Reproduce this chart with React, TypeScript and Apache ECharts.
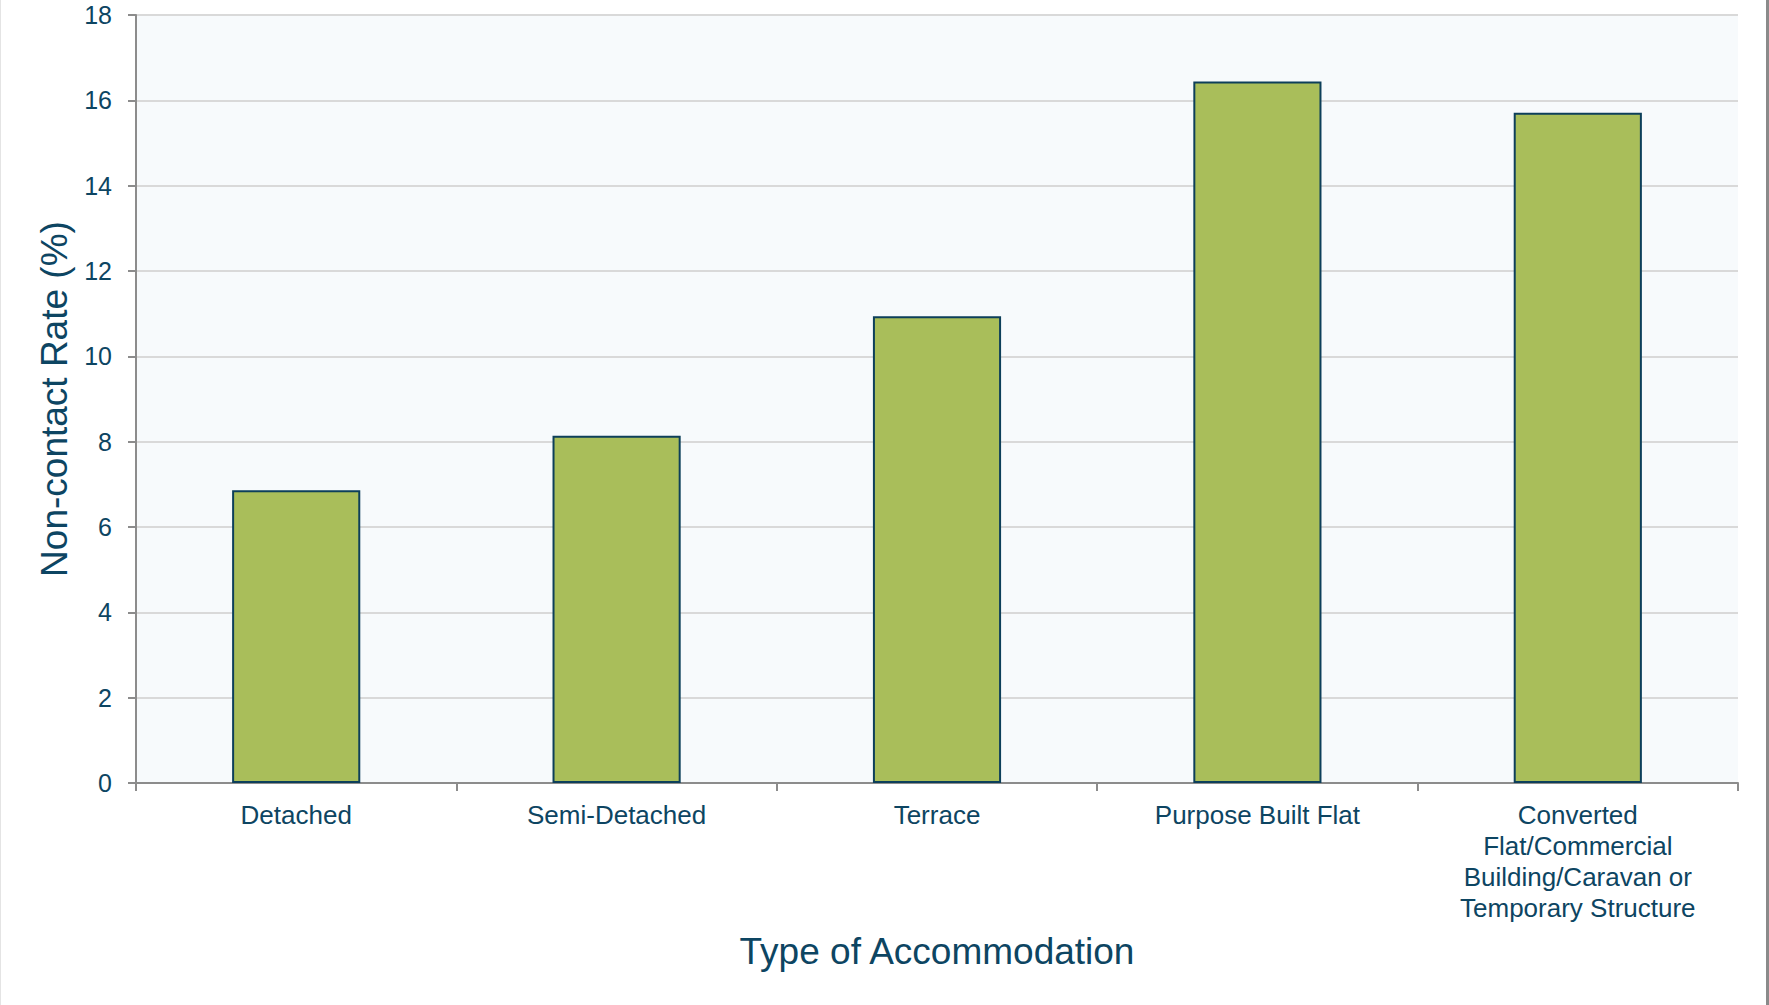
import React, { useEffect, useRef } from "react";
import * as echarts from "echarts";

const categories = [
  "Detached",
  "Semi-Detached",
  "Terrace",
  "Purpose Built Flat",
  "Converted\nFlat/Commercial\nBuilding/Caravan or\nTemporary Structure",
];
const nonContactRate = [6.86, 8.14, 10.94, 16.44, 15.71];
const yTicks = { min: 0, max: 18, interval: 2 };

const TEXT = "#0D4562";
const FONT = "'Liberation Sans', Arial, sans-serif";

export default function App() {
  const ref = useRef<HTMLDivElement>(null);
  useEffect(() => {
    if (!ref.current) return;
    const chart = echarts.init(ref.current, undefined, { renderer: "svg" });
    chart.setOption({
      animation: false,
      backgroundColor: "#ffffff",
      textStyle: { fontFamily: FONT },
      graphic: [
        { type: "rect", shape: { x: 0, y: 0, width: 1, height: 1005 }, style: { fill: "#e4e4e4" } },
        { type: "rect", shape: { x: 1766, y: 0, width: 3, height: 1005 }, style: { fill: "#8a8a8a" } },
      ],
      grid: {
        left: 136,
        right: 31,
        top: 15,
        bottom: 222,
        show: true,
        backgroundColor: "#F7FAFC",
        borderWidth: 0,
      },
      xAxis: {
        type: "category",
        data: categories,
        name: "Type of Accommodation",
        nameLocation: "middle",
        nameGap: 150,
        nameTextStyle: { color: TEXT, fontSize: 37, fontFamily: FONT },
        axisLine: { lineStyle: { color: "#8C8C8C", width: 2 } },
        axisTick: { show: true, length: 8, lineStyle: { color: "#8C8C8C", width: 2 } },
        axisLabel: {
          color: TEXT,
          fontSize: 26,
          lineHeight: 31,
          margin: 16,
          fontFamily: FONT,
          interval: 0,
        },
        splitLine: { show: false },
      },
      yAxis: {
        type: "value",
        min: yTicks.min,
        max: yTicks.max,
        interval: yTicks.interval,
        name: "Non-contact Rate (%)",
        nameLocation: "middle",
        nameGap: 61,
        nameTextStyle: { color: TEXT, fontSize: 37, fontFamily: FONT },
        axisLine: { show: true, lineStyle: { color: "#8C8C8C", width: 2 } },
        axisTick: { show: true, length: 8, lineStyle: { color: "#8C8C8C", width: 2 } },
        axisLabel: { color: TEXT, fontSize: 25, margin: 24, fontFamily: FONT },
        splitLine: { show: true, lineStyle: { color: "#D9D9D9", width: 2 } },
      },
      series: [
        {
          type: "bar",
          data: nonContactRate,
          barWidth: "40%",
          itemStyle: {
            color: "#A9BE5A",
            borderColor: "#0D3F5A",
            borderWidth: 2,
          },
        },
      ],
    });
    return () => chart.dispose();
  }, []);
  return (
    <div
      ref={ref}
      style={{ position: "fixed", left: 0, top: 0, width: 1769, height: 1005 }}
    />
  );
}
